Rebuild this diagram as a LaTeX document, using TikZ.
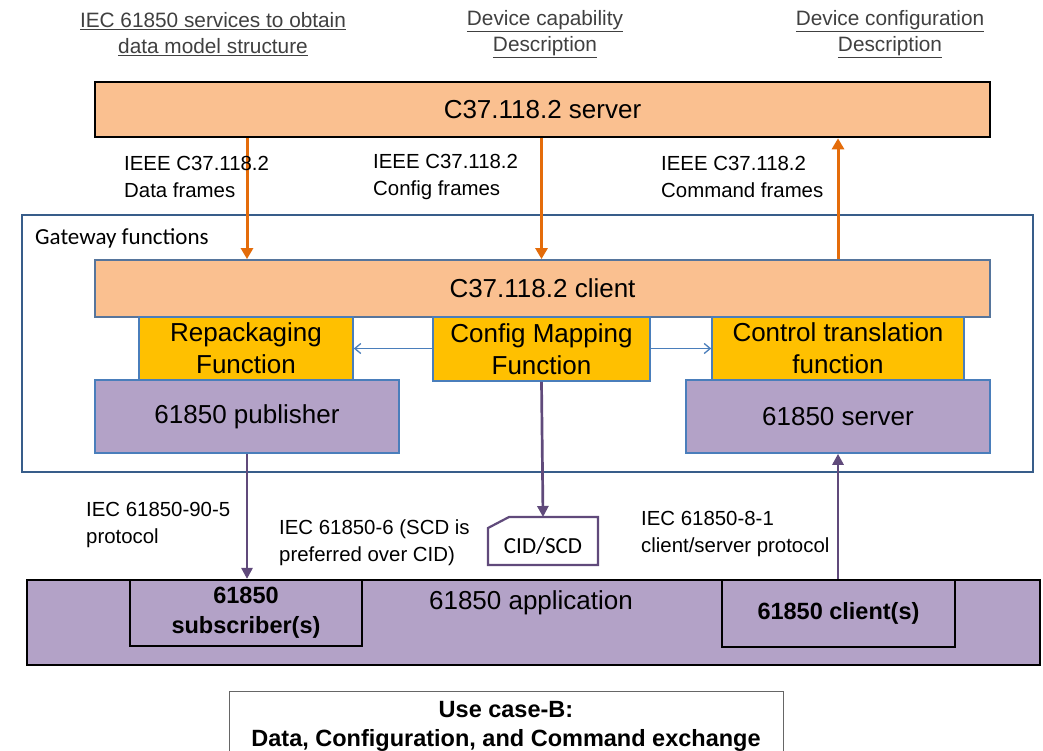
\documentclass[tikz,border=0pt]{standalone}
\usepackage{fontspec}
\setmainfont{Liberation Sans}
\newfontfamily\calibrifont{Carlito}
\usetikzlibrary{arrows.meta}
\definecolor{peach}{HTML}{FAC090}
\definecolor{amber}{HTML}{FFC000}
\definecolor{lilac}{HTML}{B3A2C7}
\definecolor{plum}{HTML}{604A7B}
\definecolor{rust}{HTML}{E46C0A}
\definecolor{steel}{HTML}{4A7EBB}
\definecolor{navyedge}{HTML}{385D8A}
\definecolor{headtext}{HTML}{404040}
\tikzset{
  big/.style={font=\fontsize{26}{32}\selectfont},
  srvbox/.style={draw=black, line width=2.6pt, fill=peach, big, inner sep=0pt},
  clibox/.style={draw=navyedge!85, line width=1.8pt, fill=peach, big, inner sep=0pt},
  fnbox/.style={draw=steel, line width=1.6pt, fill=amber, big, align=center, inner sep=0pt},
  iecbox/.style={draw=steel, line width=1.6pt, fill=lilac, big, inner sep=0pt},
  appbox/.style={draw=black, line width=2.6pt, fill=lilac, inner sep=0pt},
  subbox/.style={draw=black, line width=2.2pt, fill=lilac, align=center, inner sep=0pt,
    font=\fontsize{23.5}{30}\selectfont\bfseries},
  lbl/.style={font=\fontsize{20.4}{27}\selectfont, align=left, inner sep=0pt, anchor=west},
  headlbl/.style={font=\fontsize{20.8}{26}\selectfont, text=headtext, align=center, inner sep=0pt},
  framearrow/.style={draw=rust, line width=3pt, -{Triangle[width=12pt,length=11pt]}},
  iecarrow/.style={draw=plum, line width=2.7pt, -{Triangle[width=11pt,length=11pt]}},
  maparrow/.style={draw=steel, line width=1.3pt, -{Straight Barb[width=10pt,length=6pt]}}
}
\begin{document}
\begin{tikzpicture}[x=1pt,y=-1pt]
\useasboundingbox[fill=white] (0,0) rectangle (1043,750);

% headings above the server
\node[headlbl] (h1) at (213,34) {\underline{IEC 61850 services to obtain}\\\underline{data model structure}};
\node[headlbl] (h2) at (545,34) {\underline{Device capability}\\\underline{Description}};
\node[headlbl] (h3) at (890,34) {\underline{Device configuration}\\\underline{Description}};

% C37.118.2 server
\node[srvbox, minimum width=895pt, minimum height=55pt] (srv) at (542.5,109.5) {C37.118.2 server};

% gateway frame
\node[draw=navyedge, line width=1.8pt, minimum width=1011pt, minimum height=257pt, inner sep=0pt] (gw) at (527.5,343.5) {};
\node[font=\calibrifont\fontsize{23}{26}\selectfont, anchor=west, inner sep=0pt] (gwlbl) at (35,238) {Gateway functions};

% gateway contents
\node[clibox, minimum width=895pt, minimum height=57pt] (cli) at (542.5,288.5) {C37.118.2 client};
\node[fnbox, minimum width=214pt, minimum height=63pt] (rep) at (246,348.5) {Repackaging\\Function};
\node[fnbox, minimum width=217pt, minimum height=64pt] (cfg) at (541.5,349) {Config Mapping\\Function};
\node[fnbox, minimum width=252pt, minimum height=63pt] (ctl) at (838,348.5) {Control translation\\function};
\node[iecbox, minimum width=304pt, minimum height=73pt] (pub) at (247,416.5) {61850 publisher};
\node[iecbox, minimum width=304pt, minimum height=73pt] (isrv) at (838,416.5) {61850 server};

% configuration file
\draw[draw=plum, line width=2.2pt, fill=white] (488,528) -- (509,517) -- (598,517) -- (598,565) -- (488,565) -- cycle;
\node[font=\calibrifont\fontsize{23}{26}\selectfont, inner sep=0pt] (cid) at (543,546) {CID/SCD};
\coordinate (cidtop) at (543,517);

% 61850 application
\node[appbox, minimum width=1013pt, minimum height=85pt] (app) at (533.5,622.5) {};
\node[big, inner sep=0pt] (applbl) at (531,603) {61850 application};
\node[subbox, minimum width=232pt, minimum height=66pt] (sub) at (246,613) {61850\\subscriber(s)};
\node[subbox, minimum width=233pt, minimum height=67pt] (clis) at (838.5,613.5) {61850 client(s)};

% use case caption
\node[draw=black!60, line width=1pt, minimum width=554pt, minimum height=70pt, align=center, inner sep=0pt,
  font=\fontsize{23.5}{29}\selectfont\bfseries] (uc) at (506,726) {Use case-B:\\Data, Configuration, and Command exchange};

% C37.118.2 frames
\draw[framearrow] (srv.south -| pub.north) -- (cli.north -| pub.north);
\draw[framearrow] (srv.south -| cfg.north) -- (cli.north -| cfg.north);
\draw[framearrow] (cli.north -| ctl.north) -- (srv.south -| ctl.north);
\node[lbl] (l1) at (124,177) {IEEE C37.118.2\\Data frames};
\node[lbl] (l2) at (373,177) {IEEE C37.118.2\\Config frames};
\node[lbl] (l3) at (661,177) {IEEE C37.118.2\\Command frames};

% mapping links
\draw[maparrow] (cfg.west |- rep.east) -- (rep.east);
\draw[maparrow] (cfg.east |- ctl.west) -- (ctl.west);

% 61850 links
\draw[iecarrow] (pub.south) -- (pub.south |- sub.north);
\draw[iecarrow] (cfg.south) -- (cidtop);
\draw[iecarrow] (clis.north -| isrv.south) -- (isrv.south);
\node[lbl] (l4) at (86,525) {IEC 61850-90-5\\protocol};
\node[lbl] (l5) at (279,543) {IEC 61850-6 (SCD is\\preferred over CID)};
\node[lbl] (l6) at (641,534) {IEC 61850-8-1\\client/server protocol};
\end{tikzpicture}
\end{document}
